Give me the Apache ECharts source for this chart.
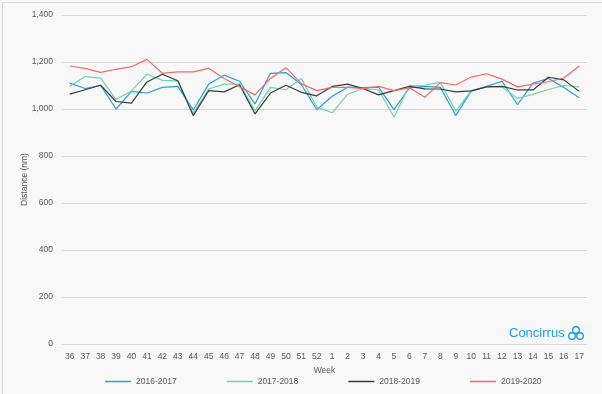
<!DOCTYPE html>
<html><head><meta charset="utf-8">
<script src="https://cdn.jsdelivr.net/npm/echarts@6/dist/echarts.min.js"></script>
<style>html,body{margin:0;padding:0;background:#fff}#c{width:602px;height:394px}</style>
</head><body><div id="c"></div>
<script>
const weeks = ['36','37','38','39','40','41','42','43','44','45','46','47','48','49','50','51','52','1','2','3','4','5','6','7','8','9','10','11','12','13','14','15','16','17'];
const s2016 = [1110,1087,1101,1000,1075,1068,1092,1096,996,1106,1144,1118,1021,1152,1155,1104,997,1054,1093,1091,1093,997,1090,1096,1092,972,1076,1096,1118,1018,1110,1130,1092,1048];
const s2017 = [1097,1138,1131,1040,1077,1148,1122,1120,982,1085,1106,1106,992,1092,1082,1130,1008,984,1063,1087,1082,965,1100,1101,1113,991,1078,1094,1094,1045,1062,1083,1100,1094];
const s2018 = [1063,1082,1101,1032,1025,1115,1148,1120,972,1078,1073,1103,979,1068,1101,1071,1056,1096,1106,1087,1060,1078,1096,1086,1085,1073,1077,1094,1096,1081,1081,1135,1124,1075];
const s2019 = [1183,1173,1156,1169,1180,1211,1152,1158,1158,1173,1130,1095,1060,1130,1176,1108,1078,1092,1092,1087,1096,1078,1090,1050,1112,1102,1136,1150,1127,1094,1106,1116,1132,1183];
const seriesNames = ['2016-2017','2017-2018','2018-2019','2019-2020'];
const colors = ['#2a9fdc','#6dd5a8','#3a3a3a','#f26b6b'];
const data = [s2016,s2017,s2018,s2019];
const font = 'Liberation Sans, Arial, sans-serif';
const chart = echarts.init(document.getElementById('c'));
chart.setOption({
  backgroundColor:'#f8f8f8',
  animation:false,
  color:colors,
  grid:{left:62,right:15,top:15,bottom:50},
  legend:{
    bottom:3,left:100,itemGap:50,itemWidth:26,itemHeight:1.5,icon:'rect',
    textStyle:{color:'#595959',fontSize:8.5,fontFamily:font},
    data:seriesNames
  },
  xAxis:{
    type:'category',data:weeks,boundaryGap:true,
    name:'Week',nameLocation:'middle',nameGap:22,
    nameTextStyle:{color:'#595959',fontSize:8.5,fontFamily:font},
    axisLine:{lineStyle:{color:'#d9d9d9'}},
    axisTick:{show:false},
    axisLabel:{color:'#595959',fontSize:8.5,fontFamily:font,interval:0,margin:8}
  },
  yAxis:{
    type:'value',min:0,max:1400,interval:200,
    name:'Distance (nm)',nameLocation:'middle',nameGap:33,nameRotate:90,
    nameMoveOverlap:false,
    nameTextStyle:{color:'#595959',fontSize:8.5,fontFamily:font},
    axisLine:{show:false},axisTick:{show:false},
    splitLine:{lineStyle:{color:'#d9d9d9',width:1}},
    axisLabel:{color:'#595959',fontSize:8.5,fontFamily:font,margin:9,
      formatter:v=>v.toLocaleString('en-US')}
  },
  series:data.map((d,i)=>({
    name:seriesNames[i],type:'line',data:d,showSymbol:false,symbol:'none',
    lineStyle:{width:1.2,color:colors[i]},z:2+i
  })),
  graphic:[
    {type:'rect',left:0,top:0,shape:{width:601,height:393},style:{fill:'none',stroke:'#d9d9d9',lineWidth:1},silent:true},
    {type:'text',left:509,top:327,style:{text:'Concirrus',fill:'#1a9fe3',font:'13px '+font}},
    {type:'circle',shape:{cx:572,cy:336,r:3.3},style:{fill:'none',stroke:'#1a9fe3',lineWidth:1.4}},
    {type:'circle',shape:{cx:580,cy:336,r:3.3},style:{fill:'none',stroke:'#1a9fe3',lineWidth:1.4}},
    {type:'circle',shape:{cx:576,cy:330,r:3.3},style:{fill:'none',stroke:'#1a9fe3',lineWidth:1.4}}
  ]
});
</script></body></html>
